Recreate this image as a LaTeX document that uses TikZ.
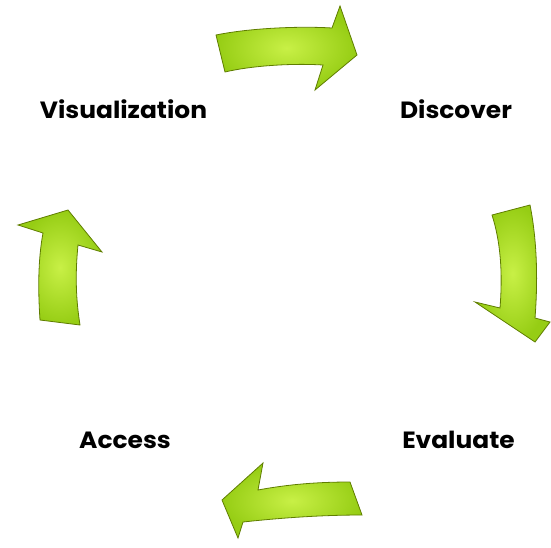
\documentclass[tikz,border=0pt]{standalone}
\usepackage{fontspec}
\setmainfont{Poppins}[FakeStretch=1.06]
\begin{document}
\begin{tikzpicture}[x=1pt,y=-1pt]
\definecolor{gfill}{RGB}{150,205,20}
\definecolor{glight}{RGB}{200,240,70}
\definecolor{gedge}{RGB}{95,125,0}
\tikzset{
  greenarrow/.style={draw=gedge, line width=0.8pt, line join=miter, inner color=glight, outer color=gfill},
  lbl/.style={font=\fontsize{23.5}{26}\selectfont\bfseries, text=black, anchor=base, inner sep=0pt}
}
\path[use as bounding box] (0,0) rectangle (551,547);
% labels
\node[lbl] (vis) at (123.5,118) {Visualization};
\node[lbl] (dis) at (456,118) {Discover};
\node[lbl] (acc) at (125,448) {Access};
\node[lbl] (eva) at (458.5,448) {Evaluate};
% top arrow
\path[greenarrow] (216,35) .. controls (250,28) and (300,26) .. (332,28)
  -- (340,6) -- (357,55) -- (315,90) -- (323,65)
  .. controls (290,63) and (250,66) .. (225,72) -- cycle;
% right arrow
\path[greenarrow] (492,215) -- (530,205)
  .. controls (537,240) and (538,280) .. (535,318)
  -- (550,322) -- (535,342) -- (475,302) -- (500,308)
  .. controls (503,270) and (500,240) .. cycle;
% bottom arrow
\path[greenarrow] (222,500) -- (263,463) -- (258,490)
  .. controls (290,484) and (320,482) .. (350,482)
  -- (362,515)
  .. controls (320,515) and (280,518) .. (243,522)
  -- (238,538) -- cycle;
% left arrow
\path[greenarrow] (68,210) -- (102,252) -- (78,245)
  .. controls (75,275) and (76,300) .. (80,325)
  -- (40,320)
  .. controls (38,290) and (38,260) .. (43,233)
  -- (18,225) -- cycle;
\end{tikzpicture}
\end{document}
